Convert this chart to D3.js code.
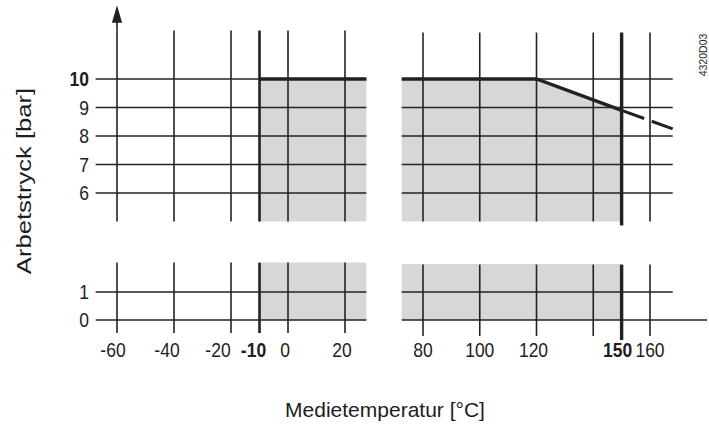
<!DOCTYPE html>
<html>
<head>
<meta charset="utf-8">
<script src="https://cdn.jsdelivr.net/npm/d3@7"></script>
<style>
  body { margin: 0; background: #fff; }
  text { font-family: "Liberation Sans", Arial, sans-serif; fill: #1e1e1e; }
</style>
</head>
<body>
<div id="chart"></div>
<script>
// data
var leftTicks = [-60, -40, -20, -10, 0, 20];
var rightTicks = [80, 100, 120, 140, 150, 160];
var leftLabels = ["-60", "-40", "-20", "-10", "0", "20"];
var rightLabels = ["80", "100", "120", "", "150", "160"];
var boldTicks = [-10, 150, 10];
var topTicks = [6, 7, 8, 9, 10];
var bottomTicks = [0, 1];
var leftExtent = [-67.5, 27.5];
var rightExtent = [72.5, 168];
var topExtent = [5, 11.7];
var bottomExtent = [-0.45, 2.05];
var limitLeft = [[-10, 10], [27.5, 10]];
var limitRight = [[72.5, 10], [120, 10], [150, 8.9]];
var limitDashed = [[150, 8.9], [168, 8.25]];

var width = 709, height = 429;

var svg = d3.select("#chart").append("svg")
  .attr("width", width)
  .attr("height", height);

// scales
var xL = d3.scaleLinear().domain([-60, 20]).range([117, 345]);
var xR = d3.scaleLinear().domain([80, 160]).range([423, 650]);
var yT = d3.scaleLinear().domain([10, 6]).range([79, 193]);
var yB = d3.scaleLinear().domain([1, 0]).range([292, 320]);

var grid = "#222", shade = "#d7d7d7";

// shaded operating area
function area(x, y, pts, yMin) {
  var a = d3.area().x(function(d) { return x(d[0]); })
    .y0(y(yMin)).y1(function(d) { return y(d[1]); });
  svg.append("path").datum(pts).attr("d", a).attr("fill", shade);
}
area(xL, yT, limitLeft, topExtent[0]);
area(xR, yT, limitRight, topExtent[0]);
area(xL, yB, [[-10, bottomExtent[1]], [27.5, bottomExtent[1]]], 0);
area(xR, yB, [[72.5, bottomExtent[1] - 0.05], [150, bottomExtent[1] - 0.05]], 0);

// horizontal grid
function hlines(x, y, ticks, ext, extraRight) {
  svg.append("g").selectAll("line").data(ticks).enter().append("line")
    .attr("x1", x(ext[0])).attr("x2", function(d) {
      return (extraRight && d === 0) ? 707 : x(ext[1]);
    })
    .attr("y1", function(d) { return y(d); })
    .attr("y2", function(d) { return y(d); })
    .attr("stroke", grid).attr("stroke-width", 1.6);
}
hlines(xL, yT, topTicks, leftExtent);
hlines(xR, yT, topTicks, rightExtent);
hlines(xL, yB, bottomTicks, leftExtent);
hlines(xR, yB, bottomTicks, rightExtent, true);

// vertical grid
function vlines(x, ticks, y0, y1) {
  svg.append("g").selectAll("line").data(ticks).enter().append("line")
    .attr("x1", function(d) { return x(d); })
    .attr("x2", function(d) { return x(d); })
    .attr("y1", y0).attr("y2", function(d) { return d === 150 ? y1 + 4 : y1; })
    .attr("stroke", grid)
    .attr("stroke-width", function(d) { return d === -10 ? 2.6 : d === 150 ? 3.4 : 1.6; });
}
vlines(xL, leftTicks, yT(topExtent[1]), yT(topExtent[0]));
vlines(xR, rightTicks, yT(topExtent[1]) + 2, yT(topExtent[0]));
vlines(xL, leftTicks, yB(bottomExtent[1]), 333);
vlines(xR, rightTicks, yB(bottomExtent[1]) + 2, 336);

// y axis with arrow
svg.append("line")
  .attr("x1", xL(-60)).attr("x2", xL(-60))
  .attr("y1", 14).attr("y2", yT(topExtent[1]))
  .attr("stroke", grid).attr("stroke-width", 1.6);
svg.append("path")
  .attr("d", d3.symbol().type(d3.symbolTriangle).size(70))
  .attr("transform", "translate(" + xL(-60) + ",17) scale(0.8,1.6)")
  .attr("fill", grid);

// limit line
var line = function(x) {
  return d3.line().x(function(d) { return x(d[0]); }).y(function(d) { return yT(d[1]); });
};
svg.append("path").datum(limitLeft).attr("d", line(xL))
  .attr("fill", "none").attr("stroke", grid).attr("stroke-width", 3.4);
svg.append("path").datum(limitRight).attr("d", line(xR))
  .attr("fill", "none").attr("stroke", grid).attr("stroke-width", 3.4);
svg.append("path").datum(limitDashed).attr("d", line(xR))
  .attr("fill", "none").attr("stroke", grid).attr("stroke-width", 3)
  .attr("stroke-dasharray", "24,8");

// tick labels (slightly taller than wide, like the scan)
var labelOffset = { "-20": -13, "-10": -6, "-60": -4, "-40": -7, "0": -3, "20": -3, "120": -3, "150": -4 };
function xlabels(x, ticks, labels) {
  svg.append("g").selectAll("text").data(ticks).enter().append("text")
    .attr("transform", function(d) {
      return "translate(" + (x(d) + (labelOffset[String(d)] || 0)) + ",357) scale(1,1.17)";
    })
    .attr("text-anchor", "middle")
    .attr("font-size", 17.5)
    .attr("font-weight", function(d) { return boldTicks.indexOf(d) >= 0 ? "bold" : "normal"; })
    .text(function(d, i) { return labels[i]; });
}
xlabels(xL, leftTicks, leftLabels);
xlabels(xR, rightTicks, rightLabels);

function ylabels(y, ticks) {
  svg.append("g").selectAll("text").data(ticks).enter().append("text")
    .attr("transform", function(d) { return "translate(89," + y(d) + ") scale(1,1.17)"; })
    .attr("dy", "0.36em")
    .attr("text-anchor", "end")
    .attr("font-size", 17.5)
    .attr("font-weight", function(d) { return boldTicks.indexOf(d) >= 0 ? "bold" : "normal"; })
    .text(function(d) { return d; });
}
ylabels(yT, topTicks);
ylabels(yB, bottomTicks);

// axis titles
svg.append("text")
  .attr("x", 385).attr("y", 417)
  .attr("text-anchor", "middle")
  .attr("font-size", 21)
  .text("Medietemperatur [°C]");

svg.append("text")
  .attr("transform", "translate(31,181) rotate(-90) scale(1.22,1)")
  .attr("text-anchor", "middle")
  .attr("font-size", 21)
  .text("Arbetstryck [bar]");

svg.append("text")
  .attr("transform", "translate(707,55) rotate(-90)")
  .attr("text-anchor", "middle")
  .attr("font-size", 10.5)
  .text("4320D03");
</script>
</body>
</html>
